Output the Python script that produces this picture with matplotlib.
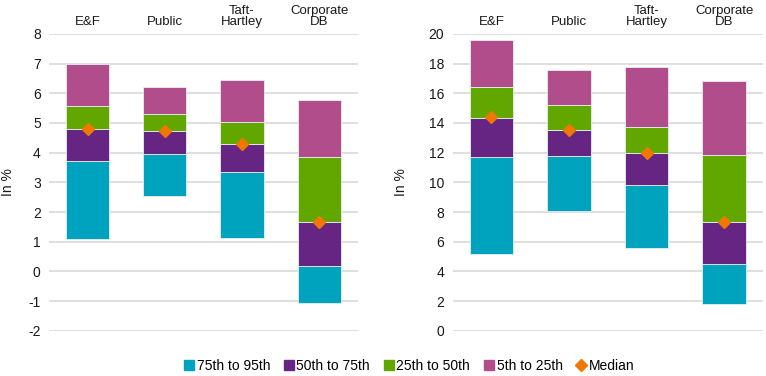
import matplotlib
matplotlib.use("Agg")
import matplotlib.pyplot as plt
from matplotlib.lines import Line2D
import numpy as np

plt.rcParams["font.family"] = ["Liberation Sans", "DejaVu Sans"]

categories = ["E&F", "Public", "Taft-\nHartley", "Corporate\nDB"]

# left panel (percentile boundaries, bottom to top)
left_p95 = [1.10, 2.53, 1.13, -1.07]
left_p75 = [3.72, 3.97, 3.35, 0.20]
left_p50 = [4.78, 4.72, 4.28, 1.65]
left_p25 = [5.57, 5.30, 5.03, 3.87]
left_p5 = [6.98, 6.22, 6.43, 5.78]
left_median = [4.80, 4.73, 4.30, 1.65]

# right panel
right_p95 = [5.20, 8.10, 5.55, 1.80]
right_p75 = [11.70, 11.75, 9.85, 4.50]
right_p50 = [14.35, 13.50, 11.95, 7.35]
right_p25 = [16.45, 15.20, 13.70, 11.85]
right_p5 = [19.60, 17.55, 17.75, 16.80]
right_median = [14.40, 13.55, 11.95, 7.35]

left_ticks = [-2, -1, 0, 1, 2, 3, 4, 5, 6, 7, 8]
right_ticks = [0, 2, 4, 6, 8, 10, 12, 14, 16, 18, 20]

TEAL = "#00A3BD"
PURPLE = "#662583"
GREEN = "#62A700"
PINK = "#B14D8A"
ORANGE = "#F07800"
GRID = "#D9D9D9"
TXT = "#1A1A1A"

labels = ["75th to 95th", "50th to 75th", "25th to 50th", "5th to 25th"]
colors = [TEAL, PURPLE, GREEN, PINK]

fig = plt.figure(figsize=(7.66, 3.76), dpi=100)
ax1 = fig.add_axes([0.064, 0.12, 0.403, 0.79])
ax2 = fig.add_axes([0.591, 0.12, 0.405, 0.79])


def panel(ax, bounds, median, ticks):
    x = np.arange(len(categories))
    for i in range(4):
        lo = np.array(bounds[i])
        hi = np.array(bounds[i + 1])
        ax.bar(x, hi - lo, bottom=lo, width=0.56, color=colors[i],
               edgecolor="#E6EEF2", linewidth=0.6, zorder=3)
    ax.plot(x, median, ls="none", marker="D", ms=6, color=ORANGE, zorder=4)
    ax.set_ylim(ticks[0], ticks[-1])
    ax.set_yticks(ticks)
    ax.set_yticklabels([str(t) for t in ticks], fontsize=10, color=TXT)
    ax.set_xlim(-0.5, 3.5)
    ax.set_xticks(x)
    ax.set_xticklabels(categories, fontsize=9.5, color=TXT, linespacing=0.95)
    ax.xaxis.tick_top()
    ax.tick_params(length=0, pad=6)
    ax.tick_params(axis="x", pad=4)
    for s in ax.spines.values():
        s.set_visible(False)
    ax.grid(axis="y", color=GRID, lw=1.2, zorder=0)
    ax.set_ylabel("In %", fontsize=10, color=TXT)


panel(ax1, [left_p95, left_p75, left_p50, left_p25, left_p5], left_median, left_ticks)
panel(ax2, [right_p95, right_p75, right_p50, right_p25, right_p5], right_median, right_ticks)
ax1.yaxis.set_label_coords(-0.11, 0.5)
ax2.yaxis.set_label_coords(-0.145, 0.5)

handles = [Line2D([], [], ls="none", marker="s", ms=7, color=c) for c in colors]
handles.append(Line2D([], [], ls="none", marker="D", ms=6, color=ORANGE))
fig.legend(handles, labels + ["Median"], loc="center", ncol=5,
           bbox_to_anchor=(0.533, 0.027), frameon=False, fontsize=10,
           handletextpad=0.05, columnspacing=0.85, handlelength=1.0)

fig.savefig("out.png", dpi=100)
